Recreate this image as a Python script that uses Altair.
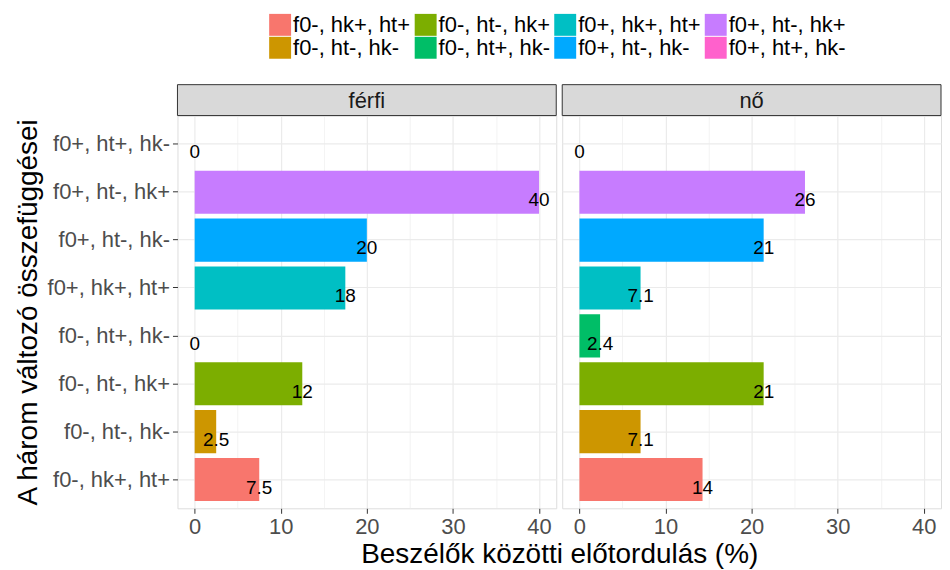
import altair as alt
import pandas as pd

# ---- data ----
categories = ["f0-, hk+, ht+", "f0-, ht-, hk-", "f0-, ht-, hk+", "f0-, ht+, hk-",
              "f0+, hk+, ht+", "f0+, ht-, hk-", "f0+, ht-, hk+", "f0+, ht+, hk-"]
colors = ["#F8766D", "#CD9600", "#7CAE00", "#00BE67",
          "#00BFC4", "#00A9FF", "#C77CFF", "#FF61CC"]
facets = ["férfi", "nő"]
ferfi_values = [7.5, 2.5, 12.5, 0, 17.5, 20, 40, 0]
ferfi_labels = ["7.5", "2.5", "12", "0", "18", "20", "40", "0"]
no_values = [14.3, 7.1, 21.4, 2.4, 7.1, 21.4, 26.2, 0]
no_labels = ["14", "7.1", "21", "2.4", "7.1", "21", "26", "0"]
x_ticks = [0, 5, 10, 15, 20, 25, 30, 35, 40]

rows = []
for g, vals, labs in [(facets[0], ferfi_values, ferfi_labels), (facets[1], no_values, no_labels)]:
    for c, v, l in zip(categories, vals, labs):
        rows.append({"nem": g, "kat": c, "ertek": v, "cimke": l})
df = pd.DataFrame(rows)

# legend order (row-wise fill of a 4-column legend)
legend_order = [categories[i] for i in [0, 2, 4, 6, 1, 3, 5, 7]]

FONT = "Liberation Sans"
W, H, SH = 380, 394, 31
SP = 6

color_scale = alt.Scale(domain=categories, range=colors)
y_sort = list(reversed(categories))


def panel(g, first):
    base = alt.Chart(df).transform_filter(alt.datum.nem == g)
    if first:
        y_axis = alt.Axis(title="A három változó összefüggései", titleFontSize=28,
                          titleFont=FONT, titleFontWeight="normal", titleColor="black",
                          labelFontSize=22, labelFont=FONT, labelColor="#4D4D4D",
                          tickSize=5, tickColor="#333333", labelPadding=3,
                          titlePadding=4, grid=True, gridColor="#EBEBEB", gridWidth=1.2,
                          domain=False, labelLimit=300)
        x_title = "Beszélők közötti előtordulás (%)"
    else:
        y_axis = alt.Axis(title=None, labels=False, ticks=False, domain=False,
                          grid=True, gridColor="#EBEBEB", gridWidth=1.2)
        x_title = None
    x_axis = alt.Axis(values=x_ticks, title=x_title, titleFontSize=28, titleFont=FONT,
                      titleFontWeight="normal", titleColor="black",
                      titleX=W + SP / 2, titlePadding=3,
                      labelExpr="datum.value % 10 === 0 ? datum.label : ''",
                      labelFontSize=22, labelFont=FONT, labelColor="#4D4D4D",
                      labelPadding=3, tickSize=5, tickColor="#333333",
                      tickOpacity={"condition": {"test": "datum.value % 10 === 0", "value": 1}, "value": 0},
                      grid=True, gridColor="#EBEBEB",
                      gridWidth={"condition": {"test": "datum.value % 10 === 0", "value": 1.2}, "value": 0.6},
                      domain=False)
    x = alt.X("ertek:Q", scale=alt.Scale(domain=[-2, 42], nice=False), axis=x_axis)
    y = alt.Y("kat:N", sort=y_sort,
              scale=alt.Scale(paddingInner=0.1, paddingOuter=0.15), axis=y_axis)
    bars = base.mark_bar(opacity=1).encode(
        x=x, x2=alt.datum(0), y=y,
        color=alt.Color("kat:N", scale=color_scale,
                        legend=alt.Legend(orient="none", legendX=92, legendY=-102,
                                          direction="horizontal", columns=4,
                                          values=legend_order, title=None,
                                          symbolType="square", symbolSize=484,
                                          symbolStrokeWidth=0, symbolOpacity=1,
                                          labelFontSize=22, labelFont=FONT,
                                          labelColor="black", labelOffset=2,
                                          columnPadding=4, rowPadding=1,
                                          labelLimit=300)),
    )
    text = base.mark_text(fontSize=19, font=FONT, color="black", dy=8,
                          align="center", baseline="middle").encode(
        x=x, y=y, text="cimke:N")

    strip_data = alt.Chart(pd.DataFrame({"nem": [g]}))
    strip_bg = strip_data.mark_rect(fill="#D9D9D9", stroke="#333333", strokeWidth=1,
                                    clip=False).encode(
        x=alt.value(0), x2=alt.value(W), y=alt.value(-SH), y2=alt.value(0))
    strip_txt = strip_data.mark_text(fontSize=22, font=FONT, color="#1A1A1A",
                                     baseline="middle", align="center", clip=False).encode(
        text="nem:N", x=alt.value(W / 2), y=alt.value(-SH / 2 + 1))
    return alt.layer(bars, text, strip_bg, strip_txt).properties(width=W, height=H)


chart = alt.hconcat(panel(facets[0], True), panel(facets[1], False), spacing=SP,
                    bounds="flush").properties(
    padding={"left": 6, "top": 5, "right": 0, "bottom": 0}
).configure_view(stroke="#333333", strokeWidth=1).configure(background="white")

chart.save("out.html", embed_options={"renderer": "svg", "actions": False})
